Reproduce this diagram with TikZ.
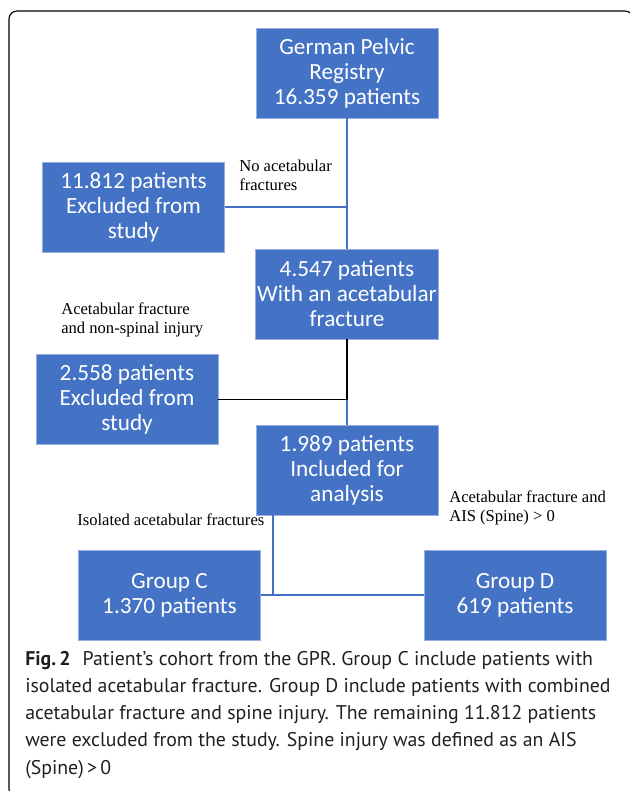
\documentclass[tikz,border=0pt]{standalone}
\usepackage{fontspec}
\setmainfont{Liberation Serif}
\newfontfamily\boxfont{Carlito}
\newfontfamily\capfont{PT Sans}
\usepackage{tikz}
\usetikzlibrary{positioning,calc}
\definecolor{gprblue}{RGB}{68,114,196}
\definecolor{gpredge}{RGB}{150,175,220}
\definecolor{captext}{RGB}{35,31,32}
\tikzset{
  cohort/.style={rectangle,draw=gpredge,line width=0.6pt,fill=#1,
                 text=white,minimum width=4.55cm,minimum height=2.25cm,
                 font=\boxfont\fontsize{16.5}{17.8}\selectfont,align=center,
                 inner sep=1pt},
  cohort/.default=gprblue,
  note/.style={anchor=west,align=left,inner sep=0pt,
               font=\fontsize{11.8}{13.5}\selectfont},
  flow/.style={line width=1pt,#1},
  flow/.default=gprblue,
}

\begin{document}
\begin{tikzpicture}[x=0.025cm,y=-0.025cm]

  \useasboundingbox (0,0) rectangle (630,791);
  \draw[line width=0.8pt,rounded corners=0.2cm] (9,11) rectangle (633,797);

  \node[cohort] (reg)   at (347,73)    {German Pelvic\\Registry\\16.359 patients};
  \node[cohort] (excl1) at (133.5,207) {11.812 patients\\Excluded from\\study};
  \node[cohort] (acet)  at (347,294)   {4.547 patients\\With an acetabular\\fracture};
  \node[cohort] (excl2) at (127,399.5)  {2.558 patients\\Excluded from\\study};
  \node[cohort] (incl)  at (347,470)   {1.989 patients\\Included for\\analysis};
  \node[cohort] (gc)    at (169.5,595) {Group C\\1.370 patients};
  \node[cohort] (gd)    at (515,595)   {Group D\\619 patients};

  \node[note] (n1) at (239,175.5) {No acetabular\\fractures};
  \node[note] (n2) at (61,320)    {Acetabular fracture\\and non-spinal injury};
  \node[note] (n3) at (449,508)   {Acetabular fracture and\\AIS (Spine) > 0};
  \node[note] (n4) at (77,520)    {Isolated acetabular fractures};

  \draw[flow] (reg) -- (acet);
  \draw[flow] (excl1.east) -- (excl1.east -| reg.south);
  \draw[flow] (acet) -- (incl);
  \draw[flow=black] (acet.south) |- (excl2.east);
  \coordinate (split) at (273,595);
  \draw[flow] (gc.east) -- (gd.west);
  \draw[flow] (split |- incl.south) -- (split);

  \node[anchor=north west,align=left,inner sep=0pt,text=captext,
        font=\capfont\fontsize{14.1}{19.3}\selectfont] (cap) at (25,651)
    {\textbf{Fig.\,2}\hspace{0.6em}Patient’s cohort from the GPR. Group C include patients with\\
     isolated acetabular fracture. Group D include patients with combined\\
     acetabular fracture and spine injury. The remaining 11.812 patients\\
     were excluded from the study. Spine injury was defined as an AIS\\
     (Spine)\,>\,0};

\end{tikzpicture}
\end{document}
